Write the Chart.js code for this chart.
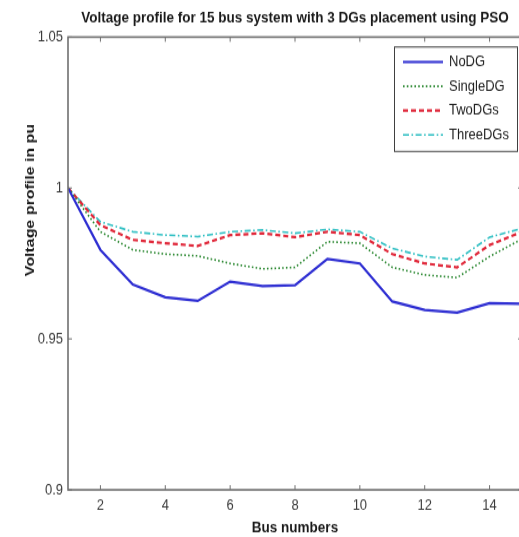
<!DOCTYPE html>
<html>
<head>
<meta charset="utf-8">
<script src="https://cdn.jsdelivr.net/npm/chart.js@4.4.1/dist/chart.umd.min.js"></script>
<style>
  html, body { margin: 0; padding: 0; overflow: hidden; background: #fff; width: 519px; height: 537px; }
  #wrap { width: 526px; height: 455px; transform: scaleY(1.1802); transform-origin: 0 0; }
  canvas { display: block; }
</style>
</head>
<body>
<div id="wrap"><canvas id="c" width="526" height="455"></canvas></div>
<script>
const titleText = 'Voltage profile for 15 bus system with 3 DGs placement using PSO';
const xLabel = 'Bus numbers';
const yLabel = 'Voltage profile in pu';
const buses = [1, 2, 3, 4, 5, 6, 7, 8, 9, 10, 11, 12, 13, 14, 15];
const xTicks = [2, 4, 6, 8, 10, 12, 14];
const yTicks = [0.9, 0.95, 1, 1.05];
const yTickLabels = ['0.9', '0.95', '1', '1.05'];
const seriesNames = ['NoDG', 'SingleDG', 'TwoDGs', 'ThreeDGs'];
const noDG     = [1.0, 0.9795, 0.9680, 0.9638, 0.9626, 0.9690, 0.9675, 0.9678, 0.9765, 0.9750, 0.9624, 0.9596, 0.9587, 0.9618, 0.9616];
const singleDG = [1.0, 0.9855, 0.9795, 0.9781, 0.9775, 0.9750, 0.9732, 0.9737, 0.9822, 0.9817, 0.9737, 0.9712, 0.9703, 0.9773, 0.9831];
const twoDGs   = [1.0, 0.9877, 0.9828, 0.9817, 0.9808, 0.9844, 0.9850, 0.9837, 0.9855, 0.9844, 0.9781, 0.9750, 0.9737, 0.9811, 0.9855];
const threeDGs = [1.0, 0.9888, 0.9855, 0.9844, 0.9839, 0.9855, 0.9861, 0.9850, 0.9863, 0.9855, 0.9800, 0.9773, 0.9762, 0.9837, 0.9866];

const FONT = "'Liberation Sans', Arial, Helvetica, sans-serif";
const AXIS_COLOR = '#707070';

function pts(vals) { return buses.map((b, i) => ({ x: b, y: vals[i] })); }

const styles = [
  { borderColor: '#2e2ed2', borderWidth: 2.2, borderDash: [] },
  { borderColor: '#2f8a35', borderWidth: 1.6, borderDash: [1.6, 2.2] },
  { borderColor: '#e0283a', borderWidth: 2.2, borderDash: [5, 3] },
  { borderColor: '#33c0c4', borderWidth: 1.6, borderDash: [6, 2.5, 1.6, 2.5] }
];
const allSeries = [noDG, singleDG, twoDGs, threeDGs];

const datasets = allSeries.map((vals, i) => Object.assign({
  label: seriesNames[i],
  data: pts(vals),
  pointRadius: 0,
  tension: 0,
  fill: false
}, styles[i]));

const boxPlugin = {
  id: 'boxPlugin',
  afterDatasetsDraw(chart) {
    const { ctx, chartArea: a, scales } = chart;
    ctx.save();
    ctx.strokeStyle = AXIS_COLOR;
    ctx.lineWidth = 1.6;
    ctx.strokeRect(a.left, a.top, a.right - a.left, a.bottom - a.top);
    ctx.lineWidth = 1;
    ctx.beginPath();
    xTicks.forEach(v => {
      const px = scales.x.getPixelForValue(v);
      ctx.moveTo(px, a.bottom); ctx.lineTo(px, a.bottom - 4);
      ctx.moveTo(px, a.top); ctx.lineTo(px, a.top + 4);
    });
    yTicks.forEach(v => {
      const py = scales.y.getPixelForValue(v);
      ctx.moveTo(a.left, py); ctx.lineTo(a.left + 4, py);
      ctx.moveTo(a.right, py); ctx.lineTo(a.right - 4, py);
    });
    ctx.stroke();

    // y-axis title (placed like the original figure, above the axis middle)
    ctx.save();
    ctx.translate(30, 169.5);
    ctx.rotate(-Math.PI / 2);
    ctx.font = 'bold 13.5px ' + FONT;
    ctx.fillStyle = '#1a1a1a';
    ctx.textAlign = 'center';
    ctx.textBaseline = 'middle';
    ctx.fillText(yLabel, 0, 0);
    ctx.restore();

    // legend box
    const lx = 394.5, ly = 39.8, lw = 123, lh = 88.5;
    ctx.fillStyle = '#fff';
    ctx.fillRect(lx, ly, lw, lh);
    ctx.strokeStyle = '#404040';
    ctx.lineWidth = 1;
    ctx.strokeRect(lx, ly, lw, lh);
    ctx.font = '13px ' + FONT;
    ctx.textBaseline = 'middle';
    ctx.textAlign = 'left';
    chart.data.datasets.forEach((ds, i) => {
      const y = 52.5 + i * 20.6;
      ctx.strokeStyle = ds.borderColor;
      ctx.lineWidth = ds.borderWidth;
      ctx.setLineDash(ds.borderDash || []);
      ctx.beginPath();
      ctx.moveTo(403, y); ctx.lineTo(443, y);
      ctx.stroke();
      ctx.setLineDash([]);
      ctx.fillStyle = '#222';
      ctx.fillText(ds.label, 449, y);
    });
    ctx.restore();
  }
};

new Chart(document.getElementById('c'), {
  type: 'line',
  data: { datasets },
  options: {
    responsive: false,
    animation: false,
    devicePixelRatio: 1,
    layout: { padding: { left: 0, right: 4, top: 0, bottom: 0 } },
    plugins: {
      legend: { display: false },
      tooltip: { enabled: false },
      title: {
        display: true,
        text: titleText,
        fullSize: false,
        color: '#1a1a1a',
        font: { family: FONT, size: 13.5, weight: 'bold' },
        padding: { top: 7, bottom: 8.2 }
      }
    },
    scales: {
      x: {
        type: 'linear',
        min: 1, max: 15,
        afterBuildTicks: s => { s.ticks = xTicks.map(v => ({ value: v })); },
        afterFit: s => { s.height = 40; },
        grid: { display: false, drawTicks: false, tickLength: 0 },
        border: { display: false },
        ticks: { color: '#3a3a3a', font: { family: FONT, size: 13 }, padding: 5.5, maxRotation: 0, autoSkip: false },
        title: { display: true, text: xLabel, color: '#1a1a1a', font: { family: FONT, size: 13.5, weight: 'bold' }, padding: { top: 0, bottom: -0.5 } }
      },
      y: {
        type: 'linear',
        min: 0.9, max: 1.05,
        afterBuildTicks: s => { s.ticks = yTicks.map(v => ({ value: v })); },
        afterFit: s => { s.width = 68; },
        grid: { display: false, drawTicks: false, tickLength: 0 },
        border: { display: false },
        ticks: {
          color: '#3a3a3a', font: { family: FONT, size: 13 }, padding: 5, autoSkip: false,
          callback: (v) => { const i = yTicks.findIndex(t => Math.abs(t - v) < 1e-9); return i >= 0 ? yTickLabels[i] : ''; }
        },
        title: { display: false }
      }
    }
  },
  plugins: [boxPlugin]
});
</script>
</body>
</html>
